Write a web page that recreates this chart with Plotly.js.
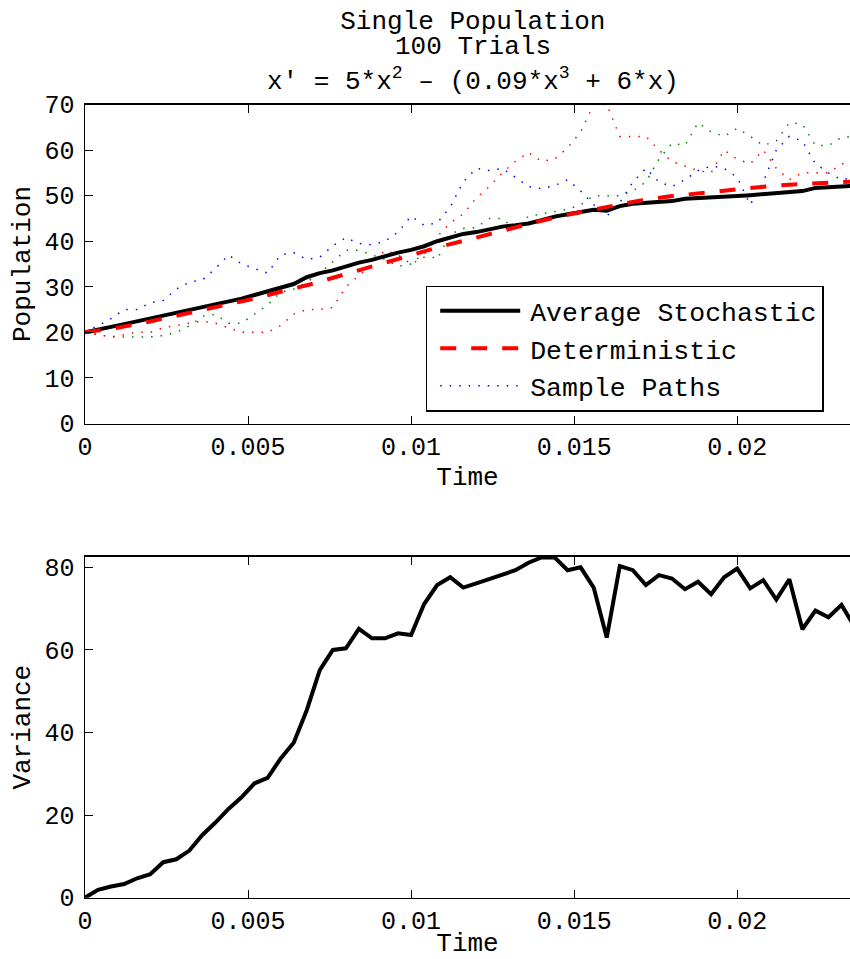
<!DOCTYPE html>
<html>
<head>
<meta charset="utf-8">
<script src="https://cdn.plot.ly/plotly-3.0.1.min.js"></script>
<style>
  html, body { margin: 0; padding: 0; background: #ffffff; }
  #chart { width: 850px; height: 959px; }
</style>
</head>
<body>
<div id="chart"></div>
<script>
// ---------- data ----------
var time = [0,0.0004,0.0008,0.0012,0.0016,0.002,0.0024,0.0028,0.0032,0.0036,
            0.004,0.0044,0.0048,0.0052,0.0056,0.006,0.0064,0.0068,0.0072,0.0076,
            0.008,0.0084,0.0088,0.0092,0.0096,0.01,0.0104,0.0108,0.0112,0.0116,
            0.012,0.0124,0.0128,0.0132,0.0136,0.014,0.0144,0.0148,0.0152,0.0156,
            0.016,0.0164,0.0168,0.0172,0.0176,0.018,0.0184,0.0188,0.0192,0.0196,
            0.02,0.0204,0.0208,0.0212,0.0216,0.022,0.0224,0.0228,0.0232,0.0236];

var avgStochastic = [20.0,20.5,21.2,21.8,22.4,23.0,23.7,24.2,24.9,25.5,
                     26.1,26.6,27.4,28.2,29.0,29.9,30.6,32.1,33.0,33.6,
                     34.5,35.3,35.9,36.8,37.5,38.1,38.9,40.0,40.9,41.6,
                     42.0,42.6,43.2,43.5,43.9,44.6,45.4,45.9,46.4,46.9,
                     46.7,47.7,48.2,48.4,48.6,48.8,49.3,49.4,49.5,49.6,
                     49.9,50.1,50.3,50.6,50.8,51.0,51.7,51.9,52.1,52.2];

var detTime = [0,0.001,0.002,0.003,0.004,0.005,0.006,0.007,0.008,0.009,
               0.010,0.011,0.012,0.013,0.014,0.015,0.016,0.017,0.018,0.019,
               0.020,0.021,0.022,0.023,0.024];
var deterministic = [20.0,21.0,22.4,23.9,25.5,27.1,28.9,30.7,32.8,34.9,
                     36.9,39.0,40.8,42.7,44.5,46.1,47.6,48.9,49.9,50.7,
                     51.5,52.1,52.6,52.9,53.2];

var sampleBlue = [20,21.5,23,25,25,26.5,27,29.5,31,31.5,
                  34,37,35,34,33,37,37.5,36,36.5,39,
                  40.8,39.5,39.2,40,42,45.5,43.5,44,47.5,53,
                  56,55.5,56,54,52,51.5,52.2,53.5,51,48,
                  45.5,48.5,53,56,53,52,53.5,55.5,56.5,56,
                  54,48,53,60,63,62,57,55,53.5,54];
var sampleGreen = [20,19.5,19,19,19,19,19.3,20,21.4,23.5,
                   24,22,22,24,26,28.8,29.5,31,33,35.5,
                   38,38,37,36,34.5,35,37.5,36,41.5,42.8,
                   43,45,45,42.5,45.5,46,46.5,47,48,50,
                   50,50,51,53,58,61.5,61,66,64,63,
                   64.8,63,61,62,66,65.7,61,61,62.8,63];
var sampleRed = [20,19.5,19,19.5,20,20,21,21.5,22,22.5,
                 22,21,20,20,20,21.5,24,25,25,25.5,
                 30,32.5,35,38,37,35,36.5,41,44,46,
                 49.5,52,55,57.5,59.5,57.5,58,60.5,64,70,
                 70,63,63,63,60,57.5,56.5,55.5,55,60,
                 58,57,60,56,53.5,55,55,55,57,57];

var variance = [0,1.9,2.7,3.3,4.7,5.7,8.6,9.3,11.4,15.2,
                18.2,21.5,24.3,27.7,29.0,33.7,37.5,45.4,55.1,60.0,
                60.4,65.1,62.8,62.8,64.0,63.6,71.1,75.7,77.6,75.1,
                76.1,77.2,78.4,79.3,81.1,82.4,82.4,79.3,80.0,75.1,
                63.0,80.3,79.3,75.7,78.1,77.3,74.7,76.5,73.5,77.6,
                79.7,74.9,76.9,72.2,77.1,65.0,69.5,67.9,70.9,65.6];

var xTickVals = [0,0.005,0.01,0.015,0.02];
var xTickText = ['0','0.005','0.01','0.015','0.02'];
var topTickVals = [0,10,20,30,40,50,60,70];
var bottomTickVals = [0,20,40,60,80];

var titleLines = ['Single Population', '100 Trials',
                  'x\u2032 = 5*x<sup>2</sup> \u2013 (0.09*x<sup>3</sup> + 6*x)'];
var legendNames = ['Average Stochastic', 'Deterministic', 'Sample Paths'];

// ---------- styling ----------
var labelFont = '"Courier New", Courier, "Nimbus Mono PS", "Nimbus Mono L", FreeMono, "Liberation Mono", monospace';
var tickFont = '"Liberation Mono", "DejaVu Sans Mono", monospace';
var dotDash = '1.5px,8px';

var traces = [
  {x: time, y: sampleBlue, xaxis: 'x', yaxis: 'y', mode: 'lines', name: legendNames[2],
   line: {color: '#0000ff', width: 1.5, dash: dotDash}, legendrank: 3, showlegend: true},
  {x: time, y: sampleGreen, xaxis: 'x', yaxis: 'y', mode: 'lines', name: 'Sample Path 2',
   line: {color: '#008000', width: 1.5, dash: dotDash}, showlegend: false},
  {x: time, y: sampleRed, xaxis: 'x', yaxis: 'y', mode: 'lines', name: 'Sample Path 3',
   line: {color: '#ff0000', width: 1.5, dash: dotDash}, showlegend: false},
  {x: time, y: avgStochastic, xaxis: 'x', yaxis: 'y', mode: 'lines', name: legendNames[0],
   line: {color: '#000000', width: 4}, legendrank: 1},
  {x: detTime, y: deterministic, xaxis: 'x', yaxis: 'y', mode: 'lines', name: legendNames[1],
   line: {color: '#ff0000', width: 4, dash: '16px,15px'}, legendrank: 2},
  {x: time, y: variance, xaxis: 'x2', yaxis: 'y2', mode: 'lines', name: 'Variance',
   line: {color: '#000000', width: 4}, showlegend: false}
];

function xAxis(anchor) {
  return {
    anchor: anchor, domain: [0, 1], range: [0, 0.02346],
    tickmode: 'array', tickvals: xTickVals, ticktext: xTickText,
    ticks: 'inside', ticklen: 8, tickwidth: 1, tickcolor: '#000',
    showline: true, linewidth: 1.5, linecolor: '#000', mirror: 'ticks',
    showgrid: false, zeroline: false, ticklabelstandoff: 0,
    tickfont: {family: tickFont, size: 25, color: '#000'},
    title: {text: 'Time', font: {family: labelFont, size: 26, color: '#000'}, standoff: 0}
  };
}
function yAxis(anchor, domain, range, vals, label) {
  return {
    anchor: anchor, domain: domain, range: range,
    tickmode: 'array', tickvals: vals,
    ticks: 'inside', ticklen: 8, tickwidth: 1, tickcolor: '#000',
    showline: true, linewidth: 1.5, linecolor: '#000', mirror: false,
    showgrid: false, zeroline: false, ticklabelstandoff: 4,
    tickfont: {family: tickFont, size: 25, color: '#000'},
    title: {text: label, font: {family: labelFont, size: 26, color: '#000'}, standoff: 6}
  };
}

var layout = {
  width: 850, height: 959,
  margin: {l: 85, r: 0, t: 0, b: 0},
  paper_bgcolor: '#ffffff', plot_bgcolor: '#ffffff',
  title: {text: titleLines[0], x: 0.507, xref: 'paper', xanchor: 'center',
          y: 1 - 20 / 959, yref: 'container', yanchor: 'middle',
          font: {family: labelFont, size: 26, color: '#000'}},
  annotations: [
    {text: titleLines[1], xref: 'paper', yref: 'paper', x: 0.507, y: 1 - 47 / 959,
     xanchor: 'center', yanchor: 'middle', showarrow: false,
     font: {family: labelFont, size: 26, color: '#000'}},
    {text: titleLines[2], xref: 'paper', yref: 'paper', x: 0.507, y: 1 - 99 / 959,
     xanchor: 'center', yanchor: 'bottom', showarrow: false,
     font: {family: labelFont, size: 26, color: '#000'}}
  ],
  xaxis: xAxis('y'),
  yaxis: yAxis('x', [1 - 423.5 / 959, 1 - 104.5 / 959], [0, 70], topTickVals, 'Population'),
  xaxis2: xAxis('y2'),
  yaxis2: yAxis('x2', [1 - 897.7 / 959, 1 - 556.7 / 959], [0, 82.57], bottomTickVals, 'Variance'),
  showlegend: true,
  legend: {
    x: (425.7 - 85) / 765, xanchor: 'left', y: 1 - 285.5 / 959, yanchor: 'top',
    bgcolor: '#ffffff', bordercolor: '#000', borderwidth: 1.5,
    font: {family: labelFont, size: 26.5, color: '#000'},
    itemwidth: 93, tracegroupgap: 0, traceorder: 'normal'
  }
};

Plotly.newPlot('chart', traces, layout, {staticPlot: true, displayModeBar: false}).then(function () {
  // lengthen the legend line samples as in the reference
  var paths = document.querySelectorAll('.legend .legendlines path');
  paths.forEach(function (p) { p.setAttribute('d', 'M13,0h80'); });
});
</script>
</body>
</html>
